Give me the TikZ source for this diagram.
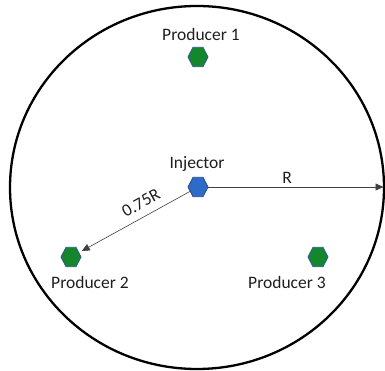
\documentclass[tikz,border=0pt]{standalone}
\usepackage{fontspec}
\setmainfont{Carlito}
\usetikzlibrary{shapes.geometric,arrows.meta}
\definecolor{prodgreen}{RGB}{20,135,45}
\definecolor{prodedge}{RGB}{47,85,151}
\definecolor{injblue}{RGB}{46,107,198}
\definecolor{injedge}{RGB}{40,75,140}
\definecolor{txt}{RGB}{30,30,30}
\tikzset{
  hexbase/.style={regular polygon, regular polygon sides=6, minimum size=20pt, inner sep=0pt, yscale=1.12, transform shape, line width=0.8pt},
  prod/.style={hexbase, fill=prodgreen, draw=prodedge},
  inj/.style={hexbase, fill=injblue, draw=injedge},
  lbl/.style={text=txt, font=\fontsize{17.5}{19}\selectfont, inner sep=0pt},
  radius arrow/.style={draw=black!75, line width=0.6pt, -{Triangle[length=8pt,width=7pt]}}
}
\begin{document}
\begin{tikzpicture}[x=1pt,y=-1pt]
\useasboundingbox (0,0) rectangle (385,371);
\draw[line width=2.3pt] (197,187.5) ellipse [x radius=187, y radius=181.5];
\node[inj] (inj) at (198,187) {};
\node[prod] (p1) at (198,57) {};
\node[prod] (p2) at (71,257) {};
\node[prod] (p3) at (318,257) {};
\coordinate (edge) at (383.5,187);
\node[lbl] (tinj) at (197,164) {Injector};
\node[lbl] (tp1) at (201,34) {Producer 1};
\node[lbl] (tp2) at (90,282) {Producer 2};
\node[lbl] (tp3) at (287,282) {Producer 3};
\draw[radius arrow] (inj) -- (edge);
\draw[radius arrow, shorten >=3pt] (inj) -- (p2);
\node[lbl] (tr) at (287,178) {R};
\node[lbl, rotate=29] (t075) at (141,203) {0.75R};
\end{tikzpicture}
\end{document}
